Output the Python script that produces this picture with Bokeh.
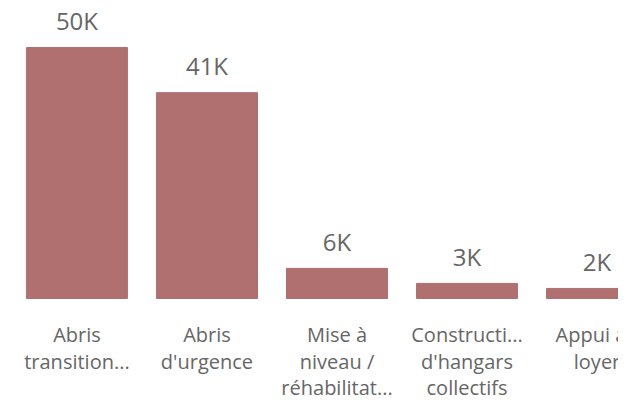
from bokeh.plotting import figure
from bokeh.models import Range1d, ColumnDataSource
from bokeh.core.properties import value
from bokeh.embed import file_html
from bokeh.resources import INLINE

categories = ["Abris\ntransition...", "Abris\nd'urgence", "Mise à\nniveau /\nréhabilitat...",
              "Constructi...\nd'hangars\ncollectifs", "Appui au\nloyer"]
values = [50000, 41000, 6000, 3000, 2000]
value_labels = ["50K", "41K", "6K", "3K", "2K"]

BAR = "#B07070"
TXT = "#666666"
FONT = "Open Sans"

xs = list(range(len(categories)))
zeros = [0] * len(categories)
src = ColumnDataSource(dict(x=xs, top=values, lab=value_labels, cat=categories, base=zeros))

p = figure(width=618, height=402, output_backend="svg", toolbar_location=None,
           x_range=Range1d(-0.588, 4.165), y_range=Range1d(-20720, 59360),
           min_border_left=0, min_border_right=0, min_border_top=0, min_border_bottom=0)
p.outline_line_color = None
p.background_fill_color = "white"
p.border_fill_color = "white"
p.grid.visible = False
p.axis.visible = False

p.vbar(x="x", top="top", bottom=0, width=0.777, color=BAR, source=src)
p.text(x="x", y="top", text="lab", source=src, text_align="center", text_baseline="alphabetic",
       y_offset=-27, text_color=TXT, text_font=value(FONT), text_font_size="24px")
p.text(x="x", y="base", text="cat", source=src, text_align="center", text_baseline="top",
       y_offset=23, text_color=TXT, text_font=value(FONT), text_font_size="20px",
       text_line_height=0.98)

open("out.html", "w").write(file_html(p, INLINE))
